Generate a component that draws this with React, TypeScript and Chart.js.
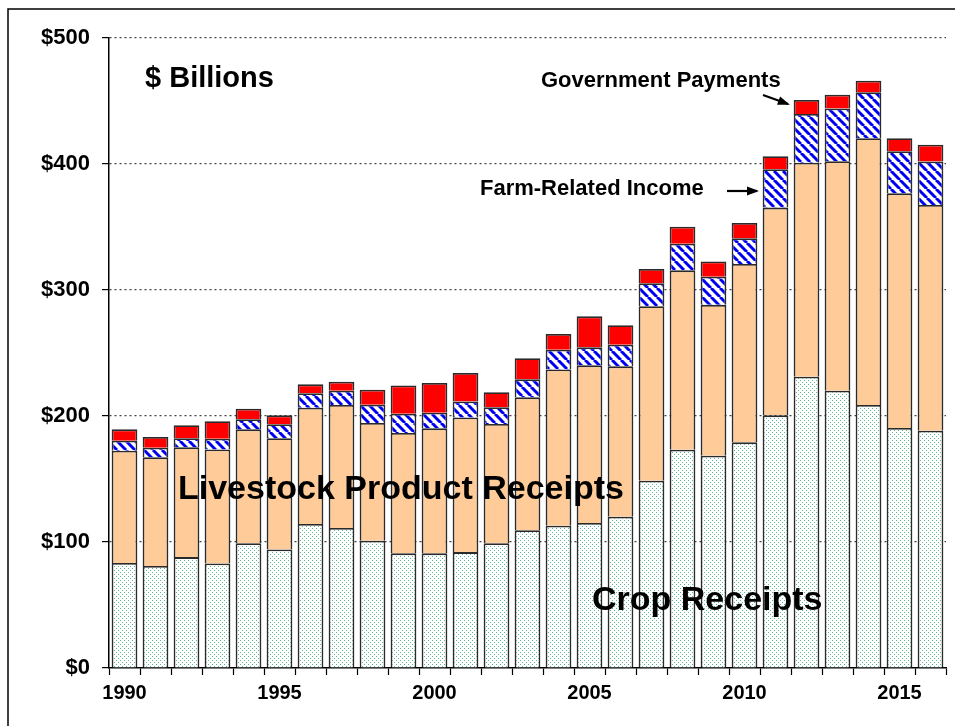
import React, { useEffect, useRef } from "react";
import { Chart, registerables } from "chart.js";

Chart.register(...registerables);

const years: string[] = [
  "1990", "1991", "1992", "1993", "1994", "1995", "1996", "1997", "1998", "1999",
  "2000", "2001", "2002", "2003", "2004", "2005", "2006", "2007", "2008", "2009",
  "2010", "2011", "2012", "2013", "2014", "2015", "2016",
];

const cropReceipts: number[] = [
  83.3, 81, 88, 83, 99, 94, 114.3, 111.1, 101, 91,
  91, 92, 99, 109.3, 112.9, 115.1, 120.1, 148.7, 173.3, 168.5,
  179.1, 200.5, 231.2, 220.1, 208.7, 190.5, 188.3,
];

const livestockReceipts: number[] = [
  89.2, 86.2, 87.2, 90.5, 90.4, 88.3, 92.3, 97.6, 93.4, 95.5,
  99.2, 106.8, 94.7, 105.5, 124.1, 125.1, 119.3, 138.4, 142.3, 119.7,
  141.5, 164.9, 169.8, 182.1, 211.7, 186.2, 179.2,
];

const farmRelatedIncome: number[] = [
  7.9, 7.6, 7.1, 8.5, 8.0, 11.1, 11.4, 11.4, 14.6, 15.3,
  12.4, 12.8, 13.2, 14.3, 15.6, 14.3, 17.2, 18.2, 21.2, 22.4,
  20.4, 30.5, 38.7, 41.8, 36.5, 33.5, 34.5,
];

const governmentPayments: number[] = [
  9.0, 8.5, 10.3, 13.8, 8.4, 7.1, 7.1, 7.1, 11.9, 22.5,
  23.6, 22.6, 11.9, 16.7, 12.5, 24.6, 15.4, 11.4, 13.4, 12.0,
  12.2, 10.3, 11.1, 11.0, 9.2, 10.2, 13.3,
];

const yTicks: number[] = [0, 100, 200, 300, 400, 500];

function makeStripePattern(): CanvasPattern | string {
  const s = 9;
  const c = document.createElement("canvas");
  c.width = s;
  c.height = s;
  const g = c.getContext("2d");
  if (!g) return "#0000ff";
  g.fillStyle = "#ffffff";
  g.fillRect(0, 0, s, s);
  g.strokeStyle = "#0000f0";
  g.lineWidth = 3;
  for (const x0 of [-s, 0, s]) {
    g.beginPath();
    g.moveTo(x0, 0);
    g.lineTo(x0 + s, s);
    g.stroke();
  }
  const p = g.createPattern(c, "repeat");
  return p || "#0000ff";
}

function makeDotPattern(): CanvasPattern | string {
  const s = 4;
  const c = document.createElement("canvas");
  c.width = s;
  c.height = s;
  const g = c.getContext("2d");
  if (!g) return "#dff0e6";
  g.fillStyle = "#ffffff";
  g.fillRect(0, 0, s, s);
  g.fillStyle = "#5cb890";
  g.fillRect(0, 0, 1, 1);
  g.fillRect(2, 2, 1, 1);
  const p = g.createPattern(c, "repeat");
  return p || "#dff0e6";
}

const annotationPlugin = {
  id: "annotations",
  afterDraw(chart: any) {
    const ctx: CanvasRenderingContext2D = chart.ctx;
    ctx.save();
    // frame
    ctx.strokeStyle = "#000";
    ctx.lineWidth = 1.5;
    ctx.beginPath();
    ctx.moveTo(8, 726);
    ctx.lineTo(8, 9);
    ctx.lineTo(955, 9);
    ctx.stroke();

    ctx.fillStyle = "#000";
    ctx.textBaseline = "middle";
    ctx.textAlign = "left";
    const F = "'Liberation Sans', Arial, sans-serif";

    ctx.font = `bold 29px ${F}`;
    ctx.fillText("$ Billions", 145, 79);

    ctx.font = `bold 22px ${F}`;
    ctx.fillText("Government Payments", 541, 81);
    ctx.fillText("Farm-Related Income", 480, 189);

    ctx.font = `bold 34px ${F}`;
    ctx.fillText("Livestock Product Receipts", 178, 490);
    ctx.fillText("Crop Receipts", 592, 601);

    const arrow = (x1: number, y1: number, x2: number, y2: number) => {
      ctx.strokeStyle = "#000";
      ctx.lineWidth = 2.2;
      ctx.beginPath();
      ctx.moveTo(x1, y1);
      ctx.lineTo(x2, y2);
      ctx.stroke();
      const a = Math.atan2(y2 - y1, x2 - x1);
      const L = 10;
      const W = 4.5;
      ctx.beginPath();
      ctx.moveTo(x2 + 2 * Math.cos(a), y2 + 2 * Math.sin(a));
      ctx.lineTo(x2 - L * Math.cos(a) + W * Math.sin(a), y2 - L * Math.sin(a) - W * Math.cos(a));
      ctx.lineTo(x2 - L * Math.cos(a) - W * Math.sin(a), y2 - L * Math.sin(a) + W * Math.cos(a));
      ctx.closePath();
      ctx.fillStyle = "#000";
      ctx.fill();
    };
    arrow(727, 191, 757, 191);
    arrow(763, 95, 788, 104);
    ctx.restore();
  },
};

export default function App() {
  const ref = useRef<HTMLCanvasElement | null>(null);

  useEffect(() => {
    if (!ref.current) return;
    const stripes = makeStripePattern();
    const dots = makeDotPattern();
    const bw = { top: 1.8, left: 1.8, right: 1.8, bottom: 0 };
    const common = {
      borderColor: "#2a2a2a",
      borderWidth: bw,
      borderSkipped: false as const,
      barPercentage: 0.83,
      categoryPercentage: 1.0,
    };
    const chart = new Chart(ref.current, {
      type: "bar",
      data: {
        labels: years,
        datasets: [
          { label: "Crop Receipts", data: cropReceipts, backgroundColor: dots, ...common },
          { label: "Livestock Product Receipts", data: livestockReceipts, backgroundColor: "#ffcc99", ...common },
          { label: "Farm-Related Income", data: farmRelatedIncome, backgroundColor: stripes, ...common },
          { label: "Government Payments", data: governmentPayments, backgroundColor: "#ff0000", ...common },
        ],
      },
      options: {
        responsive: false,
        animation: false,
        devicePixelRatio: 1,
        layout: { padding: { top: 38, right: 15, left: 0, bottom: 0 } },
        plugins: { legend: { display: false }, tooltip: { enabled: false }, title: { display: false } },
        scales: {
          x: {
            stacked: true,
            afterFit: (s: any) => {
              s.height = 58;
            },
            grid: {
              drawOnChartArea: false,
              drawTicks: true,
              tickLength: 7,
              tickColor: "#000",
              tickWidth: 1.2,
              offset: true,
            },
            border: { color: "#000", width: 1.5 },
            ticks: {
              autoSkip: false,
              maxRotation: 0,
              minRotation: 0,
              padding: 6,
              color: "#000",
              font: { family: "'Liberation Sans Narrow', 'Liberation Sans', Arial", weight: "bold", size: 20 },
              callback: (_v: any, i: number) => (Number(years[i]) % 5 === 0 ? years[i] : ""),
            },
          },
          y: {
            stacked: true,
            min: 0,
            max: 500,
            afterFit: (s: any) => {
              s.width = 109;
            },
            afterBuildTicks: (s: any) => {
              s.ticks = yTicks.map((v) => ({ value: v }));
            },
            grid: {
              drawOnChartArea: true,
              drawTicks: true,
              tickLength: 7,
              tickColor: "#000",
              tickWidth: 1.2,
              color: (c: any) => (c.tick && c.tick.value === 0 ? "rgba(0,0,0,0)" : "#444"),
              lineWidth: 1.2,
            },
            border: { color: "#000", width: 1.5, dash: [2, 3] },
            ticks: {
              padding: 12,
              color: "#000",
              font: { family: "'Liberation Sans', Arial", weight: "bold", size: 22 },
              callback: (v: any) => "$" + v,
            },
          },
        },
      },
      plugins: [annotationPlugin],
    });
    return () => chart.destroy();
  }, []);

  return (
    <div style={{ position: "fixed", left: 0, top: 0, width: 961, height: 726, background: "#fff" }}>
      <canvas ref={ref} width={961} height={726} style={{ width: 961, height: 726, display: "block" }} />
    </div>
  );
}
